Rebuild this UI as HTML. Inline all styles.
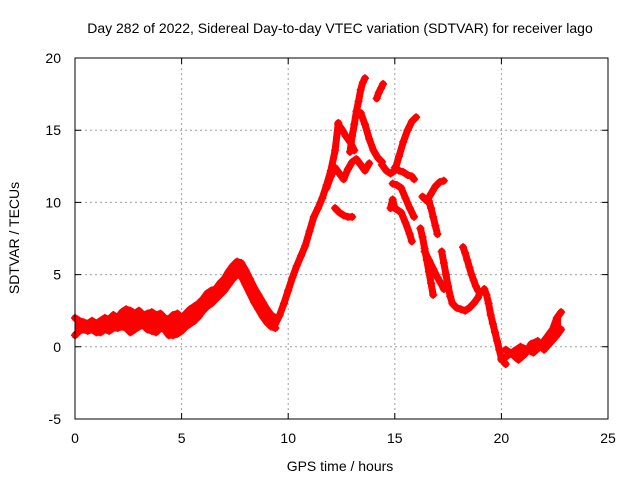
<!DOCTYPE html>
<html><head><meta charset="utf-8"><style>
body{margin:0;background:#fff;}
svg{display:block;font-family:"Liberation Sans",sans-serif;}
</style></head><body>
<svg id="chart" width="640" height="480" viewBox="0 0 640 480">
<rect x="0" y="0" width="640" height="480" fill="#fff"/>
<text x="340" y="33" font-size="14" text-anchor="middle">Day 282 of 2022, Sidereal Day-to-day VTEC variation (SDTVAR) for receiver lago</text>
<text x="340" y="471" font-size="14" text-anchor="middle">GPS time / hours</text>
<text x="19" y="238" font-size="14" text-anchor="middle" transform="rotate(-90 19 238)">SDTVAR / TECUs</text>
<g id="grid"></g><g id="ticks"></g><g id="marks"></g>
<rect x="75" y="58" width="533" height="361" fill="none" stroke="#000" stroke-width="1"/>
</svg>
<script>
const xTicks=[0,5,10,15,20,25];
const yTicks=[-5,0,5,10,15,20];
const tBase=[0,0.2,0.4,0.6,0.8,1.0,1.2,1.4,1.6,1.8,2.0,2.2,2.4,2.6,2.8,3.0,3.2,3.4,3.6,3.8,4.0,4.2,4.4,4.6,4.8,5.0,5.2,5.4,5.6,5.8,6.0,6.2,6.4,6.6,6.8,7.0,7.2,7.4,7.6,7.8,8.0,8.2,8.4,8.6,8.8,9.0,9.2,9.4];
const vBaseHi=[2.0,1.8,1.7,1.6,1.8,1.6,1.8,2.0,1.9,2.2,2.0,2.4,2.6,2.5,2.3,2.5,2.2,2.3,2.4,2.2,2.3,2.0,1.9,2.2,2.3,2.0,2.3,2.6,2.8,3.0,3.3,3.7,3.9,4.0,4.4,4.7,5.2,5.6,5.9,5.8,5.3,4.7,4.1,3.6,3.1,2.6,2.2,2.0];
const vBaseLo=[0.8,1.1,1.2,1.1,1.2,1.0,1.0,1.2,1.1,1.3,1.3,1.4,1.3,1.0,1.2,1.4,1.5,1.2,1.1,1.0,1.3,1.2,0.8,0.8,0.9,1.1,1.4,1.6,1.8,2.1,2.5,2.8,3.0,3.3,3.6,3.9,4.3,4.7,5.0,4.9,4.3,3.7,3.1,2.6,2.1,1.7,1.4,1.3];
const tRise=[9.4,9.6,9.8,10.0,10.2,10.4,10.6,10.8,11.0,11.2,11.4,11.6,11.8,12.0,12.2,12.35];
const vRise=[1.6,2.2,3.0,3.9,4.8,5.6,6.3,7.0,8.0,9.0,9.6,10.3,11.2,12.2,13.6,15.5];
const tUp=[12.35,12.5,12.7,12.9,13.1];
const vUp=[15.4,15.1,14.6,14.2,13.6];
const tLow=[12.2,12.4,12.6,12.8,13.0];
const vLow=[9.6,9.3,9.1,9.0,9.0];
const tMid=[11.8,12.0,12.2,12.4,12.6,12.8,13.0,13.2,13.4,13.6,13.8];
const vMid=[11.0,11.8,12.4,12.0,11.6,12.3,12.8,13.0,12.6,12.2,12.7];
const tPeak=[12.9,13.0,13.1,13.2,13.3,13.4,13.5,13.6];
const vPeak=[13.5,14.6,15.4,16.3,17.0,17.8,18.3,18.6];
const tPeak2=[14.15,14.25,14.35,14.45];
const vPeak2=[17.2,17.6,17.9,18.2];
const tDrop=[13.4,13.6,13.8,14.0,14.2,14.4];
const vDrop=[16.2,15.4,14.4,13.6,13.1,12.8];
const tSide=[14.4,14.6,14.8,15.0,15.2,15.4,15.6,15.8,16.0];
const vSide=[12.6,12.2,12.0,12.2,13.2,14.2,15.0,15.6,15.9];
const tFlat=[15.0,15.2,15.4,15.6,15.8,15.9];
const vFlat=[12.4,12.2,12.1,11.9,11.8,11.6];
const tDesc1=[14.9,15.1,15.3,15.5,15.7,15.9];
const vDesc1=[11.3,11.2,11.0,10.3,9.6,9.0];
const tDesc2=[14.8,14.9,15.0,15.3,15.5,15.7,15.8];
const vDesc2=[9.6,10.2,9.6,9.3,8.6,7.8,7.3];
const tDesc3=[16.2,16.3,16.4,16.5,16.6,16.7,16.8];
const vDesc3=[8.2,7.6,6.8,6.0,5.2,4.4,3.6];
const tDesc4=[16.4,16.6,16.8,17.0,17.2,17.3];
const vDesc4=[6.6,6.0,5.4,4.8,4.3,4.0];
const tArc=[16.3,16.5,16.7,16.9,17.1,17.3];
const vArc=[10.4,10.1,10.6,11.1,11.4,11.5];
const tDesc5=[16.6,16.7,16.8,16.9,17.0];
const vDesc5=[10.1,9.6,9.0,8.4,7.8];
const tDesc6=[17.2,17.3,17.4,17.5,17.6,17.7,17.9,18.1,18.3,18.5,18.7,18.9,19.0];
const vDesc6=[6.6,5.8,5.0,4.2,3.5,3.0,2.7,2.6,2.5,2.7,3.0,3.4,3.8];
const tDesc7=[18.2,18.3,18.4,18.5,18.6,18.7,18.8,18.9];
const vDesc7=[6.9,6.5,6.0,5.5,5.0,4.6,4.2,3.9];
const tDesc8=[19.2,19.3,19.4,19.5,19.6,19.7,19.8,19.9,20.0,20.2];
const vDesc8=[4.0,3.6,3.0,2.2,1.6,1.0,0.4,-0.2,-0.8,-1.2];
const tTail=[20.0,20.3,20.6,20.9,21.2,21.5,21.8,22.1,22.4,22.6,22.8];
const vTail=[-0.9,-0.6,-0.3,0.0,-0.2,-0.4,0.0,0.6,1.2,2.0,2.4];
const tTail2=[20.2,20.5,20.8,21.1,21.4,21.7,22.0,22.3,22.6,22.8];
const vTail2=[-0.2,-0.5,-0.9,-0.5,0.2,0.4,-0.2,0.3,0.8,1.2];
const tracks=[[tBase,vBaseHi],[tBase,vBaseLo],[tRise,vRise],[tUp,vUp],[tLow,vLow],[tMid,vMid],[tPeak,vPeak],[tPeak2,vPeak2],[tDrop,vDrop],[tSide,vSide],[tFlat,vFlat],[tDesc1,vDesc1],[tDesc2,vDesc2],[tDesc3,vDesc3],[tDesc4,vDesc4],[tArc,vArc],[tDesc5,vDesc5],[tDesc6,vDesc6],[tDesc7,vDesc7],[tDesc8,vDesc8],[tTail,vTail],[tTail2,vTail2]];
const bands=[[tBase,vBaseHi,vBaseLo],[tTail2,vTail.slice(1),vTail2]];
const X0=75,X1=608,Y0=419,Y1=58;
function xs(t){return X0+(t-0)/25*(X1-X0);}
function ys(v){return Y0-(v+5)/25*(Y0-Y1);}
const NS="http://www.w3.org/2000/svg";
const grid=document.getElementById('grid'),ticks=document.getElementById('ticks'),marks=document.getElementById('marks');
xTicks.forEach(t=>{
 const x=xs(t);
 if(t>0&&t<25){const l=document.createElementNS(NS,'line');
 l.setAttribute('x1',x);l.setAttribute('x2',x);l.setAttribute('y1',Y1);l.setAttribute('y2',Y0);
 l.setAttribute('stroke','#a0a0a0');l.setAttribute('stroke-dasharray','2,3');
 
 
 grid.appendChild(l);}
 const k=document.createElementNS(NS,'path');
 k.setAttribute('d',`M${x},${Y0}v-6M${x},${Y1}v6`);k.setAttribute('stroke','#000');
 
 
 ticks.appendChild(k);
 const tx=document.createElementNS(NS,'text');
 tx.setAttribute('x',x);tx.setAttribute('y',443);tx.setAttribute('font-size','14');tx.setAttribute('text-anchor','middle');
 tx.textContent=t;
 
 
 ticks.appendChild(tx);
});
yTicks.forEach(v=>{
 const y=ys(v);
 if(v>-5&&v<20){const l=document.createElementNS(NS,'line');
 l.setAttribute('x1',X0);l.setAttribute('x2',X1);l.setAttribute('y1',y);l.setAttribute('y2',y);
 l.setAttribute('stroke','#a0a0a0');l.setAttribute('stroke-dasharray','2,3');
 
 
 grid.appendChild(l);}
 const k=document.createElementNS(NS,'path');
 k.setAttribute('d',`M${X0},${y}h6M${X1},${y}h-6`);k.setAttribute('stroke','#000');
 
 
 ticks.appendChild(k);
 const tx=document.createElementNS(NS,'text');
 tx.setAttribute('x',61);tx.setAttribute('y',y+5);tx.setAttribute('font-size','14');tx.setAttribute('text-anchor','end');
 tx.textContent=v;
 
 
 ticks.appendChild(tx);
});
bands.forEach(([ts,hi,lo])=>{
 const n=Math.min(ts.length,hi.length,lo.length);
 const pts=[];
 for(let i=0;i<n;i++)pts.push(xs(ts[i])+','+ys(hi[i]));
 for(let i=n-1;i>=0;i--)pts.push(xs(ts[i])+','+ys(lo[i]));
 const pg=document.createElementNS(NS,'polygon');
 pg.setAttribute('points',pts.join(' '));
 pg.setAttribute('fill','#ff0000');
 
 
 marks.appendChild(pg);
});
tracks.forEach(([ts,vs])=>{
 const pl=document.createElementNS(NS,'polyline');
 pl.setAttribute('points',ts.map((t,i)=>xs(t)+','+ys(vs[i])).join(' '));
 pl.setAttribute('fill','none');pl.setAttribute('stroke','#ff0000');pl.setAttribute('stroke-width','7');pl.setAttribute('stroke-linejoin','round');pl.setAttribute('stroke-linecap','round');
 
 
 marks.appendChild(pl);
 ts.forEach((t,i)=>{
  const x=xs(t),y=ys(vs[i]);
  const p=document.createElementNS(NS,'path');
  p.setAttribute('d',`M${x-4},${y}h8M${x},${y-4}v8`);
  p.setAttribute('stroke','#ff0000');p.setAttribute('stroke-width','1.5');
  
  
  marks.appendChild(p);
 });
});
</script>
</body></html>
